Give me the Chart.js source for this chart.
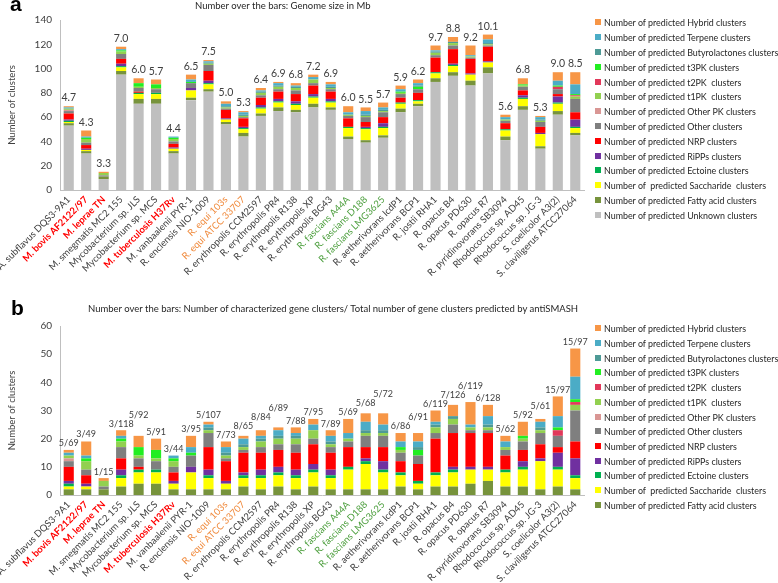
<!DOCTYPE html>
<html>
<head>
<meta charset="utf-8">
<script src="https://cdn.jsdelivr.net/npm/chart.js@4.4.1/dist/chart.umd.min.js"></script>
<style>
  body { margin: 0; background: #fff; }
  #wrap { position: relative; width: 778px; height: 583px; overflow: hidden; font-family: Lato, sans-serif; color: #404040; }
  canvas { position: absolute; left: 0; }
  .panel { position: absolute; font: bold 21px "Liberation Sans", Arial, sans-serif; color: #000; line-height: 21px; }
  .title { position: absolute; font-size: 9.5px; line-height: 12px; white-space: nowrap; color: #262626; }
  .legend-item { position: absolute; left: 595px; font-size: 8.9px; line-height: 12px; white-space: pre; color: #262626; }
  .legend-item span { display: inline-block; width: 6px; height: 6px; margin-right: 3px; vertical-align: 1px; }
</style>
</head>
<body>
<div id="wrap">
  <canvas id="chartA" width="778" height="278" style="top:0"></canvas>
  <canvas id="chartB" width="778" height="305" style="top:278px"></canvas>
  <div class="panel" style="left:10px;top:-7px">a</div>
  <div class="panel" style="left:11px;top:297px">b</div>
  <div class="title" style="left:195px;top:0">Number over the bars: Genome size in Mb</div>
  <div class="title" style="left:88px;top:303px">Number over the bars: Number of characterized gene clusters/ Total number of gene clusters predicted by antiSMASH</div>
</div>
<script>
const categories = [
  'A. subflavus DQS3-9A1', 'M. bovis AF2122/97', 'M. leprae TN', 'M. smegmatis MC2 155',
  'Mycobacterium sp. JLS', 'Mycobacterium sp. MCS', 'M. tuberculosis H37Rv', 'M. vanbaalenii PYR-1',
  'R. enclensis NIO-1009', 'R. equi 103s', 'R. equi ATCC 33707', 'R. erythropolis CCM2597',
  'R. erythropolis PR4', 'R. erythropolis R138', 'R. erythropolis XP', 'R. erythropolis BG43',
  'R. fascians A44A', 'R. fascians D188', 'R. fascians LMG3625', 'R. aetherivorans IcdP1',
  'R. aetherivorans BCP1', 'R. jostii RHA1', 'R. opacus B4', 'R. opacus PD630', 'R. opacus R7',
  'R. pyridinovorans SB3094', 'Rhodococcus sp. AD45', 'Rhodococcus sp. JG-3', 'S. coelicolor A3(2)',
  'S. claviligerus ATCC27064'
];

const genomeSizeMb = [4.7, 4.3, 3.3, 7.0, 6.0, 5.7, 4.4, 6.5, 7.5, 5.0, 5.3, 6.4, 6.9, 6.8, 7.2, 6.9, 6.0, 5.5, 5.7, 5.9, 6.2, 9.7, 8.8, 9.2, 10.1, 5.6, 6.8, 5.3, 9.0, 8.5];
const characterized = [5, 3, 1, 3, 5, 5, 3, 3, 5, 7, 8, 8, 6, 7, 7, 7, 5, 5, 5, 6, 6, 6, 7, 6, 6, 5, 5, 5, 15, 15];
const predictedTotal = [69, 49, 15, 118, 92, 91, 44, 95, 107, 73, 65, 84, 89, 88, 95, 89, 69, 68, 72, 86, 91, 119, 126, 119, 128, 62, 92, 61, 97, 97];

const unknownClusters = [53, 30, 9, 95, 71, 71, 30, 74, 81, 54, 44, 61, 65, 64, 68, 66, 42, 39, 43, 64, 69, 89, 94, 86, 96, 41, 66, 34, 62, 45];
const fattyAcid = [2, 2, 2, 3, 4, 4, 2, 2, 2, 2, 3, 2, 3, 2, 3, 2, 2, 2, 2, 3, 2, 3, 3, 4, 5, 3, 3, 2, 3, 2];
const saccharide = [1, 1, 0, 3, 4, 4, 2, 6, 4, 2, 3, 4, 4, 4, 5, 4, 7, 9, 6, 4, 2, 4, 5, 5, 4, 5, 6, 10, 6, 4];
const ectoine = [1, 0, 0, 1, 1, 1, 0, 0, 1, 0, 1, 1, 1, 1, 1, 1, 1, 1, 1, 1, 1, 1, 1, 0, 0, 1, 1, 0, 1, 1];
const ripps = [1, 1, 0, 2, 0, 0, 1, 2, 2, 1, 1, 2, 2, 2, 2, 2, 0, 1, 3, 0, 0, 0, 1, 1, 1, 0, 2, 1, 5, 6];
const nrp = [5, 3, 0, 4, 1, 0, 3, 0, 8, 7, 7, 6, 6, 6, 7, 6, 7, 4, 5, 4, 6, 12, 12, 12, 12, 5, 4, 5, 2, 6];
const otherClusters = [2, 2, 1, 4, 3, 3, 2, 4, 5, 1, 1, 2, 2, 3, 2, 2, 2, 4, 4, 3, 3, 2, 3, 1, 1, 2, 3, 4, 4, 11];
const otherPK = [1, 0, 0, 0, 0, 0, 0, 0, 0, 0, 0, 0, 0, 0, 0, 0, 0, 0, 0, 0, 0, 0, 0, 0, 0, 0, 0, 0, 0, 0];
const t1pk = [1, 3, 2, 2, 1, 1, 2, 0, 1, 1, 1, 2, 2, 2, 3, 1, 1, 1, 1, 1, 0, 2, 2, 1, 1, 1, 1, 1, 0, 2];
const t2pk = [0, 0, 0, 0, 0, 0, 0, 0, 0, 0, 0, 0, 0, 0, 0, 0, 0, 0, 0, 0, 0, 0, 0, 0, 0, 0, 0, 0, 2, 1];
const t3pk = [0, 1, 0, 1, 3, 3, 1, 1, 0, 0, 0, 0, 0, 0, 0, 0, 0, 0, 0, 1, 2, 0, 0, 0, 0, 0, 1, 0, 1, 1];
const butyrolactones = [0, 0, 0, 0, 0, 0, 0, 0, 1, 1, 1, 1, 1, 1, 0, 1, 0, 1, 1, 0, 1, 1, 1, 0, 1, 0, 0, 1, 0, 0];
const terpene = [1, 1, 0, 1, 0, 0, 1, 2, 1, 2, 2, 1, 2, 1, 2, 2, 2, 3, 2, 2, 2, 1, 0, 1, 3, 2, 0, 2, 4, 8];
const hybrid = [1, 5, 1, 2, 4, 4, 0, 4, 1, 2, 1, 2, 1, 2, 2, 2, 5, 3, 4, 3, 3, 4, 4, 8, 4, 2, 5, 1, 7, 10];

// stacking order, bottom first
const series = [
  { label: 'Number of predicted Unknown clusters', data: unknownClusters, color: '#BFBFBF' },
  { label: 'Number of predicted Fatty acid clusters', data: fattyAcid, color: '#77933C' },
  { label: 'Number of  predicted Saccharide  clusters', data: saccharide, color: '#FFFF00' },
  { label: 'Number of predicted Ectoine clusters', data: ectoine, color: '#00B050' },
  { label: 'Number of predicted RiPPs clusters', data: ripps, color: '#7030A0' },
  { label: 'Number of predicted NRP clusters', data: nrp, color: '#FF0000' },
  { label: 'Number of predicted Other clusters', data: otherClusters, color: '#7F7F7F' },
  { label: 'Number of predicted Other PK clusters', data: otherPK, color: '#D99694' },
  { label: 'Number of predicted t1PK  clusters', data: t1pk, color: '#92D050' },
  { label: 'Number of predicted t2PK  clusters', data: t2pk, color: '#E2385A' },
  { label: 'Number of predicted t3PK clusters', data: t3pk, color: '#22EE22' },
  { label: 'Number of predicted Butyrolactones clusters', data: butyrolactones, color: '#4E9A96' },
  { label: 'Number of predicted Terpene clusters', data: terpene, color: '#4BACC6' },
  { label: 'Number of predicted Hybrid clusters', data: hybrid, color: '#F79646' },
];

function labelStyle(i) {
  if ([1, 2, 6].includes(i)) return { color: '#FF0000', bold: true };
  if ([9, 10].includes(i)) return { color: '#F08A3C', bold: false };
  if ([16, 17, 18].includes(i)) return { color: '#4FA040', bold: false };
  return { color: '#404040', bold: false };
}

// numbers over the stacks; a label that would hit its left neighbour is lifted above it
function topLabels(texts, gap, size) {
  return {
    id: 'topLabels',
    afterDatasetsDraw(chart) {
      const ctx = chart.ctx;
      const meta = chart.getDatasetMeta(chart.data.datasets.length - 1);
      ctx.save();
      ctx.font = `${size}px Lato`;
      ctx.fillStyle = '#404040';
      ctx.textAlign = 'center';
      ctx.textBaseline = 'bottom';
      let prev = null;
      meta.data.forEach((bar, i) => {
        const w = ctx.measureText(texts[i]).width;
        let y = bar.y - gap;
        const hitX = prev && prev.right > bar.x - w / 2 + 2;
        const hitY = prev && y > prev.y - size && y - size < prev.y;
        if (hitX && hitY) y = prev.y - size;
        ctx.fillText(texts[i], bar.x, y);
        prev = { right: bar.x + w / 2, y };
      });
      ctx.restore();
    },
  };
}

function renderChart(canvasId, list, yMax, yStep, padTop, labelPlugin) {
  const data = {
    labels: categories,
    datasets: list.map((s) => ({
      label: s.label,
      data: s.data,
      backgroundColor: s.color,
      borderWidth: 0,
      barPercentage: 0.58,
      categoryPercentage: 1,
    })),
  };
  return new Chart(document.getElementById(canvasId).getContext('2d'), {
    type: 'bar',
    data,
    plugins: [labelPlugin],
    options: {
      responsive: false,
      animation: false,
      layout: { padding: { top: padTop, right: 194, left: 0, bottom: 0 } },
      scales: {
        x: {
          stacked: true,
          grid: { display: false, drawTicks: false },
          border: { display: true, color: '#BFBFBF' },
          ticks: {
            autoSkip: false,
            minRotation: 45,
            maxRotation: 45,
            padding: 4,
            color: (c) => labelStyle(c.index).color,
            font: (c) => ({ family: 'Lato', size: 9.5, weight: labelStyle(c.index).bold ? 'bold' : 'normal' }),
          },
          afterFit(scale) {
            scale.height = 88;
            scale.paddingLeft = 0;
            scale.paddingRight = 0;
          },
        },
        y: {
          stacked: true,
          min: 0,
          max: yMax,
          grid: { display: false, drawTicks: false },
          border: { display: true, color: '#BFBFBF' },
          ticks: { stepSize: yStep, padding: 8, color: '#404040', font: { family: 'Lato', size: 10 } },
          title: {
            display: true,
            text: 'Number of clusters',
            color: '#404040',
            font: { family: 'Lato', size: 9.5 },
            padding: { top: 6, bottom: 0 },
          },
          afterFit(scale) {
            scale.width = 60;
          },
        },
      },
      plugins: {
        legend: { display: false },
        tooltip: { enabled: false },
      },
    },
  });
}

function renderLegend(list, firstY, step) {
  const wrap = document.getElementById('wrap');
  list.slice().reverse().forEach((s, k) => {
    const el = document.createElement('div');
    el.className = 'legend-item';
    el.style.top = (firstY + k * step - 6) + 'px';
    el.innerHTML = `<span style="background:${s.color}"></span>${s.label}`;
    wrap.appendChild(el);
  });
}

const sizeTexts = genomeSizeMb.map((v) => v.toFixed(1));
const ratioTexts = characterized.map((v, i) => `${v}/${predictedTotal[i]}`);

renderChart('chartA', series, 140, 20, 20, topLabels(sizeTexts, 3, 10.5));
renderChart('chartB', series.slice(1), 60, 10, 48, topLabels(ratioTexts, 2, 9));
renderLegend(series, 23.3, 14.8);
renderLegend(series.slice(1), 329.3, 14.7);
</script>
</body>
</html>
